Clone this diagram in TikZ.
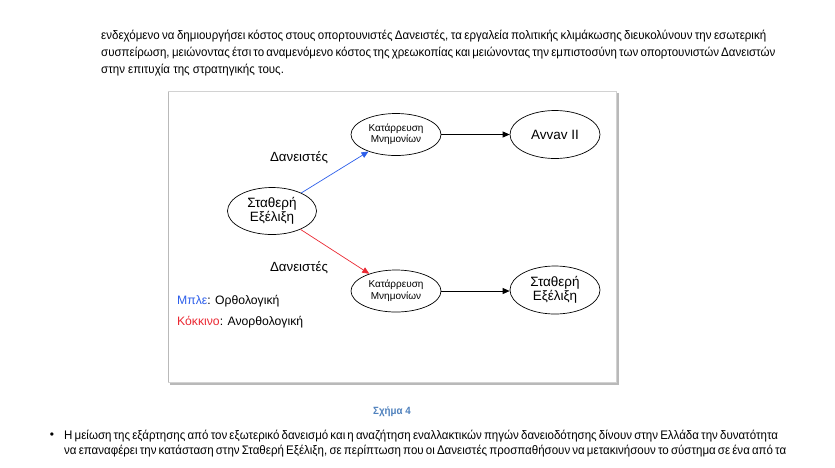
\documentclass[tikz,border=0pt]{standalone}
\usepackage{fontspec}
\setmainfont{Liberation Sans}
\newfontfamily\narrowfont[FakeStretch=0.93]{Liberation Sans}
\usetikzlibrary{arrows.meta,shapes.geometric}
\definecolor{capblue}{RGB}{79,129,189}
\definecolor{arrblue}{RGB}{45,95,235}
\definecolor{arrred}{RGB}{235,40,50}
\definecolor{legblue}{RGB}{45,95,235}
\definecolor{legred}{RGB}{235,40,50}
\begin{document}
\begin{tikzpicture}[x=1pt,y=-1pt,
  bodytext/.style={anchor=base west, inner sep=0pt, font=\narrowfont\fontsize{12.4}{14}\selectfont},
  ell/.style={draw=black, line width=0.7pt, ellipse, inner sep=0pt, align=center, minimum width=90pt},
  smalltxt/.style={font=\fontsize{10}{11.5}\selectfont},
  bigtxt/.style={font=\fontsize{13.5}{14.5}\selectfont},
  lbl/.style={inner sep=0pt, font=\fontsize{13.3}{15}\selectfont},
  link/.style={line width=0.7pt, -{Triangle[length=7pt,width=6pt]}}
]
\useasboundingbox (0,0) rectangle (835,467);
\fill[white] (0,0) rectangle (835,467);

% paragraph above
\node[bodytext] (p1) at (101,39.5) {\makebox[665pt][s]{ενδεχόμενο να δημιουργήσει κόστος στους οπορτουνιστές Δανειστές, τα εργαλεία πολιτικής κλιμάκωσης διευκολύνουν την εσωτερική}};
\node[bodytext] (p2) at (101,56.5) {\makebox[665pt][s]{συσπείρωση, μειώνοντας έτσι το αναμενόμενο κόστος της χρεωκοπίας και μειώνοντας την εμπιστοσύνη των οπορτουνιστών Δανειστών}};
\node[bodytext] (p3) at (101,73) {στην επιτυχία της στρατηγικής τους.};

% figure frame
\draw[gray!55, line width=1.6pt] (618,93) -- (618,384) -- (170,384);
\draw[gray!35, line width=0.6pt, fill=white] (168,91) rectangle (616,382);
\draw[gray!55, line width=1.2pt] (168.5,92) -- (168.5,382);

% nodes
\node[ell, minimum height=42pt, smalltxt] (k1) at (396,134.5) {Κατάρρευση\\Μνημονίων};
\node[ell, minimum height=48pt, bigtxt] (a1) at (555,134.5) {Avvav II};
\node[ell, minimum height=47pt, bigtxt, minimum width=89pt] (st) at (272,211) {Σταθερή\\Εξέλιξη};
\node[ell, minimum height=42pt, smalltxt] (k2) at (396,291) {Κατάρρευση\\Μνημονίων};
\node[ell, minimum height=48pt, bigtxt] (s2) at (555,290) {Σταθερή\\Εξέλιξη};

% connectors
\draw[link, arrblue] (st) -- (k1);
\draw[link, arrred] (st) -- (k2);
\draw[link, black] (k1) -- (a1);
\draw[link, black] (k2.east) -- (k2.east -| s2.west);

% labels
\node[lbl] (d1) at (299,158) {Δανειστές};
\node[lbl] (d2) at (299,268) {Δανειστές};
\node[lbl, anchor=west, font=\fontsize{12.2}{14}\selectfont] (l1) at (177,301) {\textcolor{legblue}{Μπλε}: Ορθολογική};
\node[lbl, anchor=west, font=\fontsize{12.2}{14}\selectfont] (l2) at (177,322) {\textcolor{legred}{Κόκκινο}: Ανορθολογική};

% caption
\node[inner sep=0pt, text=capblue, font=\narrowfont\bfseries\fontsize{10.5}{12}\selectfont] (cap) at (392,412) {Σχήμα 4};

% bullet paragraph
\node[inner sep=0pt, font=\fontsize{12}{12}\selectfont] (bul) at (52,436) {•};
\node[bodytext] (b1) at (64,439.5) {\makebox[699pt][s]{Η μείωση της εξάρτησης από τον εξωτερικό δανεισμό και η αναζήτηση εναλλακτικών πηγών δανειοδότησης δίνουν στην Ελλάδα την δυνατότητα}};
\node[bodytext] (b2) at (64,454.5) {\makebox[699pt][s]{να επαναφέρει την κατάσταση στην Σταθερή Εξέλιξη, σε περίπτωση που οι Δανειστές προσπαθήσουν να μετακινήσουν το σύστημα σε ένα από τα}};
\end{tikzpicture}
\end{document}
